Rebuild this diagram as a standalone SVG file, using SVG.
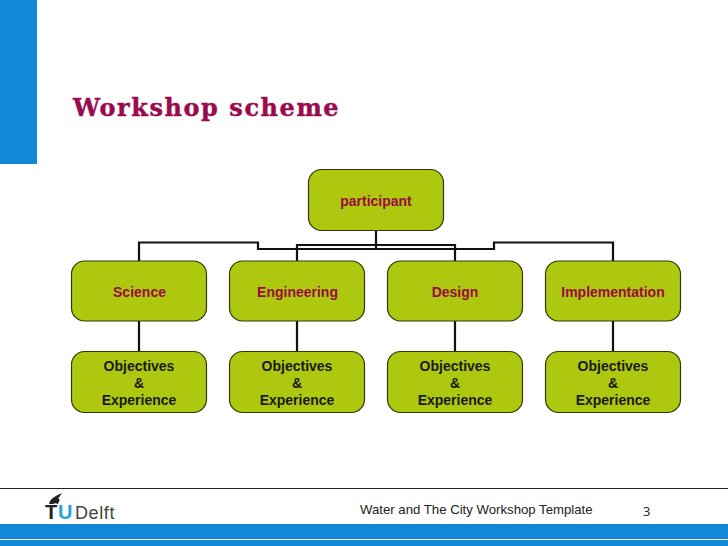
<svg xmlns="http://www.w3.org/2000/svg" width="728" height="546" viewBox="0 0 728 546">
<style>
.box{fill:#adc80f;stroke:#2f3a0a;stroke-width:1.2}
.lbl{font:bold 14px "Liberation Sans",Arial,sans-serif;text-anchor:middle;fill:#1a1a1a}
.red{fill:#9b0a3e}
.con{fill:none;stroke:#111;stroke-width:2.2}
.blue{fill:#1387d8}
</style>
<rect width="728" height="546" fill="#fff"/>
<g id="decor">
<rect class="blue" x="0" y="0" width="37" height="164"/>
<rect x="0" y="488" width="728" height="1" fill="#222"/>
<rect class="blue" x="0" y="524" width="728" height="15"/>
<rect class="blue" x="0" y="540" width="728" height="6"/>
</g>
<text id="title" x="73" y="116" font-family="'DejaVu Serif',serif" font-weight="bold" font-size="24" letter-spacing="1.55" fill="#9b0a4e" stroke="#9b0a4e" stroke-width=".4">Workshop scheme</text>
<g id="connectors">
<path class="con" d="M376 230V249"/>
<path class="con" d="M139 261V242.500H258V249H494V242.500H613V261"/>
<path class="con" d="M297 261V245H455V261"/>
<path class="con" d="M139 321V352M297 321V352M455 321V352M613 321V352"/>
</g>
<g id="participant"><rect class="box" x="308.500" y="169.500" width="135" height="61" rx="13"/><text class="lbl red" x="376" y="206">participant</text></g>
<g id="science"><rect class="box" x="71.500" y="261" width="135" height="60" rx="13"/><text class="lbl red" x="139.500" y="297">Science</text></g>
<g id="engineering"><rect class="box" x="229.500" y="261" width="135" height="60" rx="13"/><text class="lbl red" x="297.500" y="297">Engineering</text></g>
<g id="design"><rect class="box" x="387.500" y="261" width="135" height="60" rx="13"/><text class="lbl red" x="455" y="297">Design</text></g>
<g id="implementation"><rect class="box" x="545.500" y="261" width="135" height="60" rx="13"/><text class="lbl red" x="613" y="297">Implementation</text></g>
<g id="obj1"><rect class="box" x="71.500" y="351.500" width="135" height="61" rx="13"/><text class="lbl" x="139" y="371">Objectives</text><text class="lbl" x="139" y="388">&amp;</text><text class="lbl" x="139" y="405">Experience</text></g>
<g id="obj2"><rect class="box" x="229.500" y="351.500" width="135" height="61" rx="13"/><text class="lbl" x="297" y="371">Objectives</text><text class="lbl" x="297" y="388">&amp;</text><text class="lbl" x="297" y="405">Experience</text></g>
<g id="obj3"><rect class="box" x="387.500" y="351.500" width="135" height="61" rx="13"/><text class="lbl" x="455" y="371">Objectives</text><text class="lbl" x="455" y="388">&amp;</text><text class="lbl" x="455" y="405">Experience</text></g>
<g id="obj4"><rect class="box" x="545.500" y="351.500" width="135" height="61" rx="13"/><text class="lbl" x="613" y="371">Objectives</text><text class="lbl" x="613" y="388">&amp;</text><text class="lbl" x="613" y="405">Experience</text></g>
<g id="logo">
<path d="M49 504C50 499 55 496 62 493C60 496 59 497 58 499C60 498 60 500 58 504C56 503 55 503 53 504C52 504 50 504 49 504Z" fill="#222"/>
<text x="45" y="519" font-family="'Liberation Sans',Arial,sans-serif" font-weight="bold" font-size="20" fill="#222">T</text>
<text x="58" y="519" font-family="'Liberation Sans',Arial,sans-serif" font-weight="bold" font-size="20" fill="#1fa3dc">U</text>
<text x="75" y="519" font-family="'Liberation Sans',Arial,sans-serif" font-size="18" letter-spacing=".6" fill="#444">Delft</text>
</g>
<g id="footer">
<text x="360" y="514" font-family="'Liberation Sans',Arial,sans-serif" font-size="13.200" fill="#222">Water and The City Workshop Template</text>
<text x="643" y="516" font-family="'Open Sans',sans-serif" font-size="13" fill="#222">3</text>
</g>
</svg>
